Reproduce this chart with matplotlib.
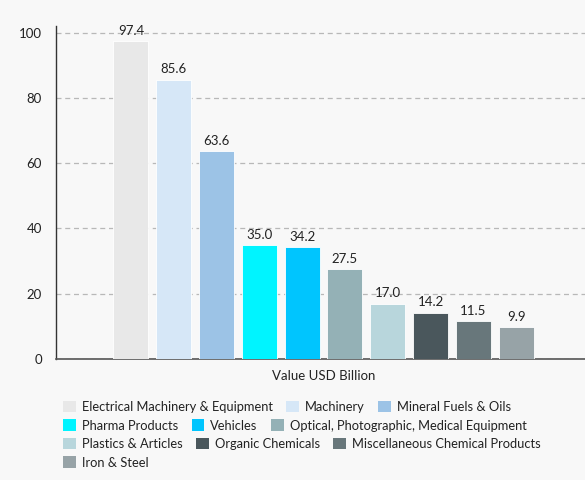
import matplotlib
matplotlib.use('Agg')
import matplotlib.pyplot as plt
from matplotlib.patches import Patch

# data
categories = ['Electrical Machinery & Equipment', 'Machinery', 'Mineral Fuels & Oils',
              'Pharma Products', 'Vehicles', 'Optical, Photographic, Medical Equipment',
              'Plastics & Articles', 'Organic Chemicals', 'Miscellaneous Chemical Products',
              'Iron & Steel']
values = [97.4, 85.6, 63.6, 35.0, 34.2, 27.5, 17.0, 14.2, 11.5, 9.9]
colors = ['#e8e8e8', '#d6e7f7', '#9cc3e6', '#00f4ff', '#00c5fe', '#94b1b6',
          '#b8d6dc', '#4a575c', '#68777b', '#97a3a7']
group_label = 'Value USD Billion'
yticks = [0, 20, 40, 60, 80, 100]
legend_rows = [[0, 1, 2], [3, 4, 5], [6, 7, 8], [9]]

plt.rcParams['font.family'] = ['Lato', 'DejaVu Sans']
BG = '#f8f8f8'
TXT = '#222222'

W, H = 585, 480
fig = plt.figure(figsize=(W / 100, H / 100), dpi=100, facecolor=BG)
ax = fig.add_axes([56 / W, 1 - 359 / H, 535 / W, (359 - 26) / H], facecolor=BG)

n = len(values)
group_w = 0.8
slot = group_w / n
xs = [-group_w / 2 + (i + 0.5) * slot for i in range(n)]
bars = ax.bar(xs, values, width=slot * 0.82, color=colors, edgecolor='#ffffff',
              linewidth=0.6, zorder=3)

for x, v in zip(xs, values):
    ax.annotate(f'{v:.1f}', (x, v), xytext=(0, 3), textcoords='offset points',
                ha='center', va='bottom', fontsize=9.5, color=TXT, zorder=4)

ax.set_xlim(-0.5, 0.5)
ax.set_ylim(0, 102)
ax.set_yticks(yticks)
ax.set_xticks([0])
ax.set_xticklabels([group_label])
ax.tick_params(axis='x', length=0, pad=8, labelsize=9.5, labelcolor=TXT)
ax.tick_params(axis='y', length=0, pad=10, labelsize=9.5, labelcolor=TXT)
ax.grid(axis='y', color='#b8b8b8', linestyle=(0, (4, 3)), linewidth=0.9, zorder=0)

for s in ['top', 'right']:
    ax.spines[s].set_visible(False)
ax.spines['left'].set_color('#333333')
ax.spines['bottom'].set_color('#555555')
ax.spines['left'].set_linewidth(1.0)
ax.spines['bottom'].set_linewidth(1.2)

# legend, one row at a time (flow layout)
row_y = [407, 425.5, 444, 462.5]
for row, y in zip(legend_rows, row_y):
    handles = [Patch(facecolor=colors[i], edgecolor='none') for i in row]
    labels = [categories[i] for i in row]
    fig.legend(handles, labels, loc='center left', bbox_to_anchor=(63 / W, 1 - y / H),
               ncol=len(row), frameon=False, fontsize=9.3, borderpad=0,
               borderaxespad=0, handlelength=1.0, handleheight=1.0,
               handletextpad=0.45, columnspacing=1.05, labelcolor=TXT)

fig.savefig('out.png', dpi=100, facecolor=BG)
